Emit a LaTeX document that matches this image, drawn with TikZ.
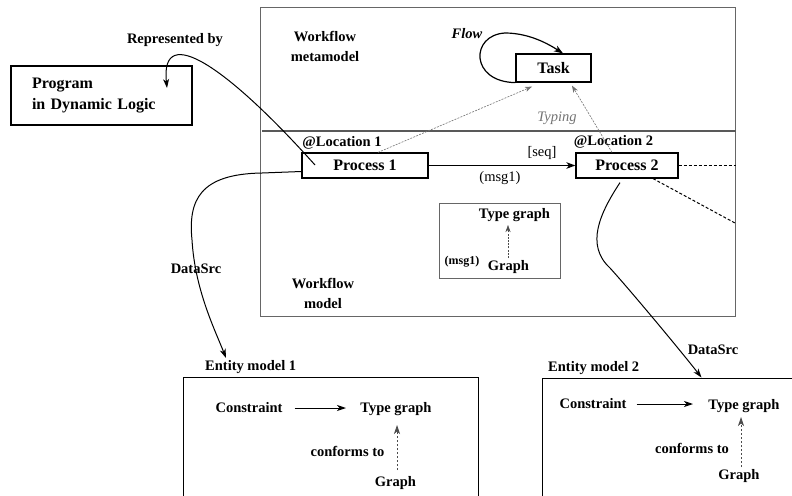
\documentclass[tikz,border=0pt]{standalone}
\usepackage{fontspec}
\setmainfont{Liberation Serif}
\usetikzlibrary{arrows.meta,calc}

\begin{document}
\begin{tikzpicture}[x=1pt,y=-1pt,
  lbl/.style={font=\fontsize{14.5}{17}\selectfont\bfseries, inner sep=0pt},
  plain/.style={font=\fontsize{14.5}{17}\selectfont, inner sep=0pt},
  bigl/.style={font=\fontsize{16}{21}\selectfont\bfseries},
  procbox/.style={draw, line width=1.2pt, bigl, minimum height=25pt, inner sep=0pt},
  solidarr/.style={-{Stealth[length=9pt,width=6.5pt,inset=2.5pt]}, line width=1.4pt},
  thinarr/.style={-{Stealth[length=9pt,width=6pt,inset=2.5pt]}, line width=1pt},
  typarr/.style={-{Stealth[length=7pt,width=5pt,inset=2pt]}, black!55, line width=0.6pt, dash pattern=on 2pt off 1.2pt},
  confarr/.style={-{Stealth[length=9pt,width=6pt,inset=2.5pt]}, black!70, line width=0.8pt, dash pattern=on 2.5pt off 1.5pt},
  dashline/.style={line width=1pt, dash pattern=on 3pt off 2pt},
  frame/.style={draw, line width=1pt, inner sep=0pt},
]
\useasboundingbox (0,0) rectangle (792,495);
\fill[white] (0,0) rectangle (792,495);
\clip (0,0) rectangle (792,495);

% ---- workflow frame with metamodel / model layers ----
\node[frame, draw=black!60, minimum width=475pt, minimum height=308pt] (wf) at (497.5,162) {};
\draw[black!65, line width=1.6pt] (262,131) -- (wf.east |- 0,131);
\node[lbl, align=center, font=\fontsize{14.5}{20}\selectfont\bfseries] (meta) at (325,46) {Workflow\\metamodel};
\node[lbl, align=center, font=\fontsize{14.5}{20}\selectfont\bfseries] (wmodel) at (323,293) {Workflow\\model};

% ---- program box ----
\node[draw, line width=1.2pt, minimum width=181pt, minimum height=59pt, text width=139pt,
      inner xsep=21pt, inner ysep=0pt, align=left, bigl] (prog) at (101.5,95.5) {Program\\in Dynamic Logic};
\node[lbl] (replbl) at (175,40) {Represented by};

% ---- metamodel ----
\node[procbox, minimum width=75pt, minimum height=28pt] (task) at (553.5,68) {Task};
\node[lbl, font=\fontsize{14.5}{17}\selectfont\bfseries\itshape] (flowlbl) at (467,34) {Flow};
\draw[solidarr, line width=1.2pt] (task.south west) .. controls (470,82) and (470,35) .. (505,33)
  .. controls (530,33) and (550,45) .. ($(task.north)+(9.5,0)$);

% ---- model ----
\node[procbox, minimum width=126pt] (p1) at (365,165.5) {Process 1};
\node[procbox, minimum width=102pt] (p2) at (627,165.5) {Process 2};
\node[lbl] (loc1) at (342,143) {@Location 1};
\node[lbl] (loc2) at (613.5,142) {@Location 2};
\draw[solidarr] (p1.east) -- (p2.west);
\node[plain] (seq) at (542,153) {[seq]};
\node[plain] (msg) at (500,178) {(msg1)};

% typing links
\draw[typarr] ($(p1.north)+(13,0)$) -- ($(task.south)+(-21.5,4)$);
\draw[typarr] ($(p2.north)+(-15,0)$) -- ($(task.south)+(18.5,3)$);
\node[plain, font=\fontsize{14.5}{17}\selectfont\itshape, text=black!55] (typing) at (557,118) {Typing};

% links leaving the frame
\draw[dashline] (p2.east) -- (wf.east |- p2.east);
\coordinate (cut) at (735,223);
\draw[dashline] ($(p2.south)+(26,0)$) -- (cut);

% message type box
\node[frame, draw=black!60, minimum width=121pt, minimum height=75pt] (tgbox) at (499.5,240.5) {};
\node[lbl] (tg0) at (514.5,215) {Type graph};
\node[lbl] (g0) at (508.5,267) {Graph};
\node[lbl, font=\fontsize{12}{14}\selectfont\bfseries] (m0) at (462,262) {(msg1)};
\draw[typarr, black!70] (508,258) -- (508,225);

% represented-by link
\coordinate (repstart) at (315,165);
\coordinate (repend) at (167,88);
\draw[thinarr] (repstart) .. controls (230,70) and (160,20) .. (repend);

% ---- entity models ----
\node[frame, minimum width=295pt, minimum height=143pt] (em1) at (330.5,448.5) {};
\node[lbl, anchor=west] (em1lbl) at (205,367) {Entity model 1};
\node[lbl] (c1) at (249,408) {Constraint};
\node[lbl] (t1) at (396,409) {Type graph};
\node[lbl] (cf1) at (347.5,451) {conforms to};
\node[lbl] (g1) at (395.5,483) {Graph};
\draw[thinarr] (c1.east) ++(12,0) -- (346,408);
\draw[confarr] (397,470) -- (397,425);

\node[frame, minimum width=288pt, minimum height=142pt] (em2) at (686,449) {};
\node[lbl, anchor=west] (em2lbl) at (548,368) {Entity model 2};
\node[lbl] (c2) at (593,404) {Constraint};
\node[lbl] (t2) at (744,406) {Type graph};
\node[lbl] (cf2) at (692,448) {conforms to};
\node[lbl] (g2) at (739,476) {Graph};
\draw[thinarr] (c2.east) ++(10,0) -- (693,404);
\draw[confarr] (741,467) -- (741,417);

% ---- data source links ----
\coordinate (ds1end) at (226,358);
\draw[thinarr] ($(p1.west)+(0,6)$) -- (262,173) .. controls (200,174) and (188,200) .. (192,240)
  .. controls (195,290) and (215,330) .. (ds1end);
\node[lbl] (ds1) at (196,269) {DataSrc};

\coordinate (ds2end) at ($(em2.north west)+(160,0)$);
\draw[thinarr] ($(p2.south)+(-7,4)$) .. controls (600,213) and (585,245) .. (610,268)
  .. controls (630,290) and (680,350) .. (ds2end);
\node[lbl] (ds2) at (713,350) {DataSrc};
\end{tikzpicture}
\end{document}
